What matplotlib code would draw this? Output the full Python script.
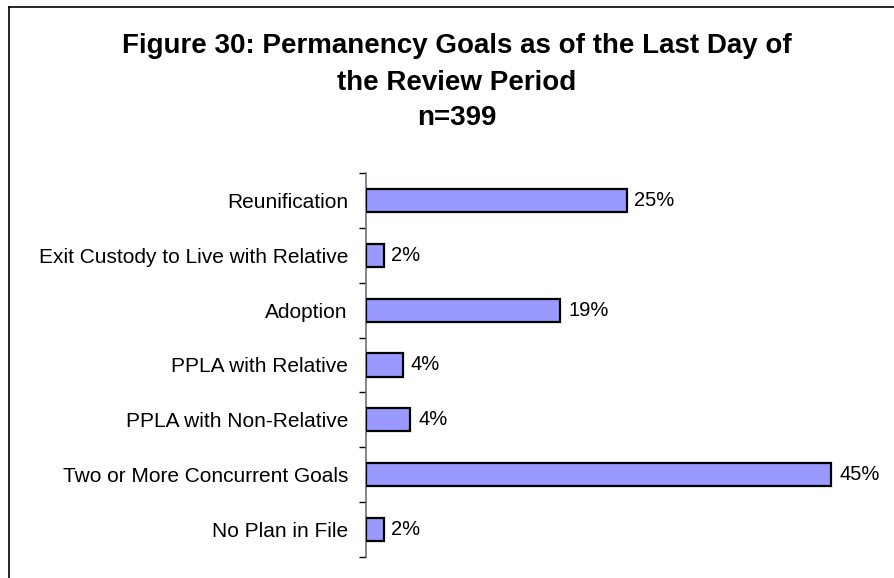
import matplotlib
matplotlib.use("Agg")
import matplotlib.pyplot as plt
from matplotlib.lines import Line2D
from matplotlib.ticker import FixedLocator

categories = [
    "Reunification",
    "Exit Custody to Live with Relative",
    "Adoption",
    "PPLA with Relative",
    "PPLA with Non-Relative",
    "Two or More Concurrent Goals",
    "No Plan in File",
]
values = [25.2, 1.7, 18.8, 3.6, 4.3, 45.0, 1.7]
title_lines = [
    "Figure 30: Permanency Goals as of the Last Day of",
    "the Review Period",
    "n=399",
]

plt.rcParams['font.family'] = ['Liberation Sans', 'DejaVu Sans']

W, H = 894, 578
fig = plt.figure(figsize=(W / 100, H / 100), dpi=100)

ax_left, ax_right = 366, 883
ax_top, ax_bottom = 173, 557
ax = fig.add_axes([ax_left / W, 1 - ax_bottom / H,
                   (ax_right - ax_left) / W, (ax_bottom - ax_top) / H])

n = len(categories)
ypos = list(range(n))
ax.barh(ypos, values, height=0.42, color="#9999FF", edgecolor="black",
        linewidth=1.6, zorder=3)
for y, v in zip(ypos, values):
    ax.text(v + 0.75, y, f"{v:.0f}%", va="center", ha="left", fontsize=14.5)

ax.set_xlim(0, 50)
ax.set_ylim(n - 0.5, -0.5)
ax.set_yticks(ypos)
ax.set_yticklabels(categories, fontsize=15)
ax.yaxis.set_minor_locator(FixedLocator([i - 0.5 for i in range(n + 1)]))
ax.tick_params(axis="y", which="major", length=0, pad=13)
ax.tick_params(axis="y", which="minor", length=5, width=1, color="black",
               direction="out")
ax.set_xticks([])
for s in ["top", "right", "bottom"]:
    ax.spines[s].set_visible(False)
ax.spines["left"].set_color("#707070")
ax.spines["left"].set_linewidth(1.2)

baselines = [53, 90, 125]
for line, b in zip(title_lines, baselines):
    fig.text(457 / W, 1 - b / H, line, ha="center", va="baseline",
             fontsize=20, fontweight="bold")

# figure border (left and top edges)
fig.add_artist(Line2D([9 / W, 9 / W], [0, 1 - 7 / H], color="black",
                      linewidth=1.2, transform=fig.transFigure))
fig.add_artist(Line2D([9 / W, 1], [1 - 7 / H, 1 - 7 / H], color="black",
                      linewidth=1.2, transform=fig.transFigure))

fig.savefig("out.png", dpi=100)
